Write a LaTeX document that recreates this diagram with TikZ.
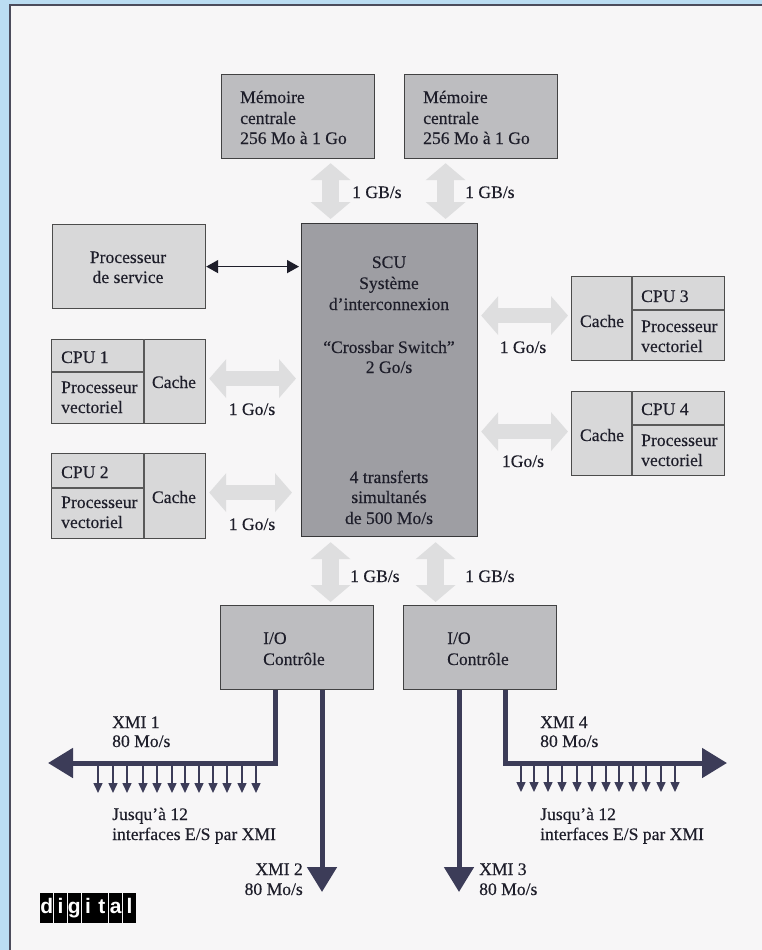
\documentclass[tikz,border=0pt]{standalone}
\usepackage{fontspec}
\setmainfont[FakeBold=0.35,AutoFakeBold=0.35]{Liberation Serif}
\newfontfamily\logofont{Liberation Sans}
\usetikzlibrary{arrows.meta}
\definecolor{paper}{HTML}{F7F6F7}
\definecolor{sky}{HTML}{BBDDF2}
\definecolor{frameink}{HTML}{4C4C5C}
\definecolor{ink}{HTML}{1E1E2A}
\definecolor{bus}{HTML}{3C3C58}
\definecolor{lightbox}{HTML}{D8D8D9}
\definecolor{midbox}{HTML}{BDBDC0}
\definecolor{darkbox}{HTML}{9E9EA3}
\definecolor{fat}{HTML}{DEDEDF}
\tikzset{
  x=1pt,y=-1pt,
  box/.style={draw=#1!35!black,line width=1.2pt,inner sep=0pt,anchor=north west},
  sized/.style 2 args={minimum width=#1,minimum height=#2},
  lbl/.style={text=ink,inner sep=0pt,font=\fontsize{17.6}{20.5}\selectfont\bfseries},
  lw/.style={lbl,anchor=base west},
  lc/.style={lbl,anchor=base},
  le/.style={lbl,anchor=base east},
  fatv/.style={draw=fat,line width=17pt,{Triangle[length=17pt,width=39pt]}-{Triangle[length=17pt,width=39pt]}},
  fath/.style={draw=fat,line width=15pt,{Triangle[length=17pt,width=38pt]}-{Triangle[length=17pt,width=38pt]}},
  busline/.style={draw=bus,line width=5pt,-{Triangle[length=25pt,width=29pt]}},
  tap/.style={draw=bus,line width=1.5pt,-{Triangle[length=10pt,width=9pt]}},
  thinlink/.style={draw=ink,line width=1.5pt,{Triangle[length=12pt,width=13pt]}-{Triangle[length=12pt,width=13pt]}},
  divider/.style={draw=black!65,line width=1.2pt},
  logoL/.style={fill=black,text=white,inner sep=0pt,minimum width=13pt,minimum height=30pt,anchor=north west,
    font=\logofont\fontsize{21}{21}\selectfont\bfseries,text height=15pt,text depth=4pt},
}
\begin{document}
\begin{tikzpicture}
\useasboundingbox (0,0) rectangle (762,950);
\fill[sky] (0,0) rectangle (762,950);
\fill[paper] (10,5) rectangle (762,950);
\draw[frameink,line width=2pt] (10,950) -- (10,5) -- (762,5);

% boxes
\node[box=midbox,fill=midbox,sized={153pt}{84pt}] (mem1) at (221,74) {};
\node[box=midbox,fill=midbox,sized={153pt}{84pt}] (mem2) at (404,74) {};
\node[box=darkbox,fill=darkbox,sized={176pt}{313pt}] (scu) at (301,223) {};
\node[box=lightbox,fill=lightbox,sized={153pt}{84pt}] (srv) at (52,224) {};
\node[box=lightbox,fill=lightbox,sized={154pt}{84pt}] (cpu1) at (51,339) {};
\node[box=lightbox,fill=lightbox,sized={154pt}{85pt}] (cpu2) at (51,453) {};
\node[box=lightbox,fill=lightbox,sized={153pt}{84pt}] (cpu3) at (571,276) {};
\node[box=lightbox,fill=lightbox,sized={153pt}{84pt}] (cpu4) at (571,391) {};
\node[box=midbox,fill=midbox,sized={153pt}{84pt}] (io1) at (220,605) {};
\node[box=midbox,fill=midbox,sized={153pt}{84pt}] (io2) at (403,605) {};

% box dividers
\draw[divider] (144,339) -- (144,423) (51,372) -- (144,372);
\draw[divider] (144,453) -- (144,538) (51,488) -- (144,488);
\draw[divider] (632,276) -- (632,360) (632,310) -- (724,310);
\draw[divider] (632,391) -- (632,475) (632,425) -- (724,425);

% wide pale links
\draw[fatv,shorten <=4pt,shorten >=4pt] ([xshift=32.5pt]mem1.south) -- ([xshift=32.5pt]mem1.south |- scu.north);
\draw[fatv,shorten <=4pt,shorten >=4pt] ([xshift=-35.5pt]mem2.south) -- ([xshift=-35.5pt]mem2.south |- scu.north);
\draw[fatv,shorten <=5pt,shorten >=3pt] ([xshift=-59pt]scu.south) -- ([xshift=33.5pt]io1.north);
\draw[fatv,shorten <=5pt,shorten >=3pt] ([xshift=46pt]scu.south) -- ([xshift=-44.5pt]io2.north);
\draw[fath,shorten <=3pt,shorten >=5pt] ([yshift=3pt]cpu1.east) -- ([yshift=3pt]cpu1.east -| scu.west);
\draw[fath,shorten <=3pt,shorten >=9pt] ([yshift=3.5pt]cpu2.east) -- ([yshift=3.5pt]cpu2.east -| scu.west);
\draw[fath,shorten <=3pt,shorten >=3pt] ([yshift=3pt]cpu3.west) -- ([yshift=3pt]cpu3.west -| scu.east);
\draw[fath,shorten <=3pt,shorten >=3pt] ([yshift=2pt]cpu4.west) -- ([yshift=2pt]cpu4.west -| scu.east);

% service link
\draw[thinlink,shorten >=2pt] (srv.east) -- (srv.east -| scu.west);

% XMI buses
\coordinate (b1) at (48,763);
\coordinate (b4) at (727,763);
\coordinate (t2) at (322,892);
\coordinate (t3) at (459,892);
\draw[busline,line join=miter] ([xshift=-21.5pt]io1.south) |- (b1);
\draw[busline] (t2 |- io1.south) -- (t2);
\draw[busline] (t3 |- io2.south) -- (t3);
\draw[busline,line join=miter] ([xshift=25.5pt]io2.south) |- (b4);
\foreach \i/\x in {1/98,2/113,3/127,4/143,5/157,6/172,7/185,8/199,9/213,10/227,11/242,12/256}{
  \coordinate (la\i) at (\x,793);
  \draw[tap] (\x,765) -- (la\i);
}
\foreach \i/\x in {1/521,2/534,3/548,4/562,5/577,6/592,7/606,8/619,9/633,10/646,11/661,12/675}{
  \coordinate (ra\i) at (\x,792);
  \draw[tap] (\x,765) -- (ra\i);
}

% text
\node[lw] (tm1a) at (240,103) {Mémoire};
\node[lw] (tm1b) at (240,124) {centrale};
\node[lw] (tm1c) at (240,144) {256 Mo à 1 Go};
\node[lw] (tm2a) at (423,103) {Mémoire};
\node[lw] (tm2b) at (423,124) {centrale};
\node[lw] (tm2c) at (423,144) {256 Mo à 1 Go};
\node[lw] (g1) at (352,198) {1 GB/s};
\node[lw] (g2) at (465,198) {1 GB/s};
\node[lw] (g3) at (350,582) {1 GB/s};
\node[lw] (g4) at (465,582) {1 GB/s};

\node[lc] (s1) at (128,263) {Processeur};
\node[lc] (s2) at (128,283) {de service};

\node[lc] (u1) at (389,268) {SCU};
\node[lc] (u2) at (389,289) {Système};
\node[lc] (u3) at (389,310) {d'interconnexion};
\node[lc] (u4) at (389,353) {``Crossbar Switch''};
\node[lc] (u5) at (389,373) {2 Go/s};
\node[lc] (u6) at (389,483) {4 transferts};
\node[lc] (u7) at (389,503) {simultanés};
\node[lc] (u8) at (389,524) {de 500 Mo/s};

\node[lw] (c1a) at (61,363) {CPU 1};
\node[lw] (c1b) at (61,393) {Processeur};
\node[lw] (c1c) at (61,413) {vectoriel};
\node[lc] (c1d) at (174,388) {Cache};
\node[lc] (r1) at (252,415) {1 Go/s};
\node[lw] (c2a) at (61,478) {CPU 2};
\node[lw] (c2b) at (61,508) {Processeur};
\node[lw] (c2c) at (61,528) {vectoriel};
\node[lc] (c2d) at (174,503) {Cache};
\node[lc] (r2) at (252,530) {1 Go/s};
\node[lw] (c3a) at (641,302) {CPU 3};
\node[lw] (c3b) at (641,332) {Processeur};
\node[lw] (c3c) at (641,352) {vectoriel};
\node[lc] (c3d) at (602,327) {Cache};
\node[lc] (r3) at (523,353) {1 Go/s};
\node[lw] (c4a) at (641,415) {CPU 4};
\node[lw] (c4b) at (641,446) {Processeur};
\node[lw] (c4c) at (641,466) {vectoriel};
\node[lc] (c4d) at (602,441) {Cache};
\node[lc] (r4) at (523,467) {1Go/s};

\node[lw] (i1a) at (263,644) {I/O};
\node[lw] (i1b) at (263,665) {Contrôle};
\node[lw] (i2a) at (447,644) {I/O};
\node[lw] (i2b) at (447,665) {Contrôle};

\node[lw] (x1a) at (112,728) {XMI 1};
\node[lw] (x1b) at (112,747) {80 Mo/s};
\node[lw] (j1a) at (112,820) {Jusqu'à 12};
\node[lw] (j1b) at (112,840) {interfaces E/S par XMI};
\node[le] (x2a) at (303,875) {XMI 2};
\node[le] (x2b) at (303,895) {80 Mo/s};
\node[lw] (x3a) at (479,875) {XMI 3};
\node[lw] (x3b) at (479,895) {80 Mo/s};
\node[lw] (x4a) at (540,728) {XMI 4};
\node[lw] (x4b) at (540,747) {80 Mo/s};
\node[lw] (j2a) at (540,820) {Jusqu'à 12};
\node[lw] (j2b) at (540,840) {interfaces E/S par XMI};

% logo
\foreach \i/\l/\x in {1/d/40,2/i/53.8,3/g/67.6,4/i/81.4,5/t/95.2,6/a/109,7/l/122.8}{
  \node[logoL] (logo\i) at (\x,893) {\l};
}
\end{tikzpicture}
\end{document}
